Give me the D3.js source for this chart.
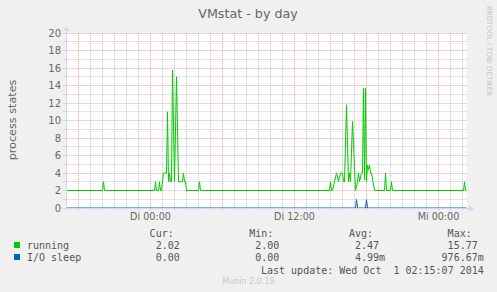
<!DOCTYPE html>
<html>
<head>
<meta charset="utf-8">
<script src="https://cdn.jsdelivr.net/npm/d3@7"></script>
<style>
  body { margin: 0; background: #f0f0f0; }
  svg { display: block; font-family: "DejaVu Sans", sans-serif; }
  .mono { font-family: "DejaVu Sans Mono", monospace; }
</style>
</head>
<body>
<div id="chart"></div>
<script>
// running processes, [time, value] (5 min steps)
const runningData = [
  ["2014-09-29 17:00", 2], ["2014-09-29 20:00", 2], ["2014-09-29 20:05", 3], ["2014-09-29 20:10", 2],
  ["2014-09-30 00:20", 2], ["2014-09-30 00:25", 3], ["2014-09-30 00:30", 2], ["2014-09-30 00:40", 2],
  ["2014-09-30 00:45", 3], ["2014-09-30 00:50", 2], ["2014-09-30 00:55", 2], ["2014-09-30 01:05", 4],
  ["2014-09-30 01:20", 4], ["2014-09-30 01:25", 11], ["2014-09-30 01:30", 3], ["2014-09-30 01:35", 4],
  ["2014-09-30 01:40", 3], ["2014-09-30 01:45", 3], ["2014-09-30 01:50", 15.77], ["2014-09-30 02:00", 3],
  ["2014-09-30 02:10", 15], ["2014-09-30 02:20", 3], ["2014-09-30 02:40", 3], ["2014-09-30 02:45", 4],
  ["2014-09-30 02:50", 3], ["2014-09-30 02:55", 3], ["2014-09-30 03:00", 2], ["2014-09-30 04:00", 2],
  ["2014-09-30 04:05", 3], ["2014-09-30 04:10", 2],
  ["2014-09-30 14:55", 2], ["2014-09-30 15:00", 3], ["2014-09-30 15:05", 2], ["2014-09-30 15:10", 2],
  ["2014-09-30 15:30", 4], ["2014-09-30 15:40", 3], ["2014-09-30 15:50", 4], ["2014-09-30 16:00", 4],
  ["2014-09-30 16:05", 3], ["2014-09-30 16:10", 3], ["2014-09-30 16:20", 11.8], ["2014-09-30 16:30", 3],
  ["2014-09-30 16:35", 4], ["2014-09-30 16:40", 3], ["2014-09-30 16:50", 9.9], ["2014-09-30 17:05", 2],
  ["2014-09-30 17:15", 3], ["2014-09-30 17:20", 4], ["2014-09-30 17:25", 3], ["2014-09-30 17:35", 4],
  ["2014-09-30 17:40", 4], ["2014-09-30 17:45", 13.7], ["2014-09-30 17:50", 3.2], ["2014-09-30 17:55", 13.7],
  ["2014-09-30 18:00", 3], ["2014-09-30 18:05", 4.9], ["2014-09-30 18:10", 4.4], ["2014-09-30 18:15", 4.9],
  ["2014-09-30 18:20", 4], ["2014-09-30 18:25", 4], ["2014-09-30 18:40", 2], ["2014-09-30 19:30", 2],
  ["2014-09-30 19:35", 4], ["2014-09-30 19:40", 2], ["2014-09-30 20:00", 2], ["2014-09-30 20:05", 3],
  ["2014-09-30 20:10", 2], ["2014-10-01 02:05", 2], ["2014-10-01 02:10", 3], ["2014-10-01 02:15", 2],
  ["2014-10-01 02:20", 2.02]
]
// processes in I/O sleep
const ioSleepData = [
  ["2014-09-29 17:00", 0], ["2014-09-30 17:05", 0], ["2014-09-30 17:10", 0.97], ["2014-09-30 17:15", 0],
  ["2014-09-30 17:55", 0], ["2014-09-30 18:00", 0.95], ["2014-09-30 18:05", 0], ["2014-10-01 02:20", 0]
]
const seriesNames = ["running", "I/O sleep"]
const seriesColors = ["#00cc00", "#0066b3"]
const curValues = [2.02, 0]
const minValues = [2.00, 0]
const avgValues = [2.47, 0.00499]
const maxValues = [15.77, 0.97667]
const statHeaders = ["Cur:", "Min:", "Avg:", "Max:"]
const dayNames = ["So", "Mo", "Di", "Mi", "Do", "Fr", "Sa"]
const timeDomain = ["2014-09-29 17:00", "2014-10-01 02:20"]
const yDomain = [0, 20]

const width = 497, height = 292
const plot = { left: 66.5, right: 466.5, top: 33, bottom: 208 }
const fontColor = "#666666"
const axisColor = "#cfd6f8"
const nbsp = s => s.replace(/ /g, "\u00a0")

const parse = d3.utcParse("%Y-%m-%d %H:%M")

const svg = d3.select("#chart").append("svg")
    .attr("width", width)
    .attr("height", height)

svg.append("rect").attr("width", width).attr("height", height).attr("fill", "#f0f0f0")

const x = d3.scaleUtc()
    .domain(timeDomain.map(parse))
    .range([plot.left, plot.right])
const y = d3.scaleLinear()
    .domain(yDomain)
    .range([plot.bottom, plot.top])

const crisp = v => Math.round(v - 0.5) + 0.5

// canvas
svg.append("rect")
    .attr("x", plot.left).attr("y", plot.top)
    .attr("width", plot.right - plot.left).attr("height", plot.bottom - plot.top)
    .attr("fill", "#ffffff")

// grid
const grid = svg.append("g").attr("stroke-dasharray", "1,1").attr("stroke-width", 1)
const hourTicks = x.ticks(d3.utcHour.every(1))
grid.selectAll("line.vx")
    .data(hourTicks)
    .enter().append("line")
    .attr("x1", d => crisp(x(d))).attr("x2", d => crisp(x(d)))
    .attr("y1", plot.top).attr("y2", plot.bottom + 3)
    .attr("stroke", d => d.getUTCHours() % 6 === 0 ? "#f2a0a0" : "#c8c8c8")
const valTicks = y.ticks(20)
grid.selectAll("line.hy")
    .data(valTicks)
    .enter().append("line")
    .attr("x1", plot.left - 3).attr("x2", plot.right)
    .attr("y1", d => crisp(y(d))).attr("y2", d => crisp(y(d)))
    .attr("stroke", d => d % 2 === 0 ? "#f2a0a0" : "#c8c8c8")

// y labels
svg.append("g").selectAll("text")
    .data(y.ticks(10))
    .enter().append("text")
    .attr("x", 61).attr("y", d => y(d) + 3.6)
    .attr("text-anchor", "end")
    .attr("font-size", 10)
    .attr("fill", fontColor)
    .text(d => d)

// x labels
svg.append("g").selectAll("text")
    .data(x.ticks(d3.utcHour.every(12)))
    .enter().append("text")
    .attr("x", d => x(d)).attr("y", 220)
    .attr("text-anchor", "middle")
    .attr("font-size", 9.6)
    .attr("fill", fontColor)
    .text(d => dayNames[d.getUTCDay()] + " " + d3.utcFormat("%H:%M")(d))

// series
const line = d3.line()
    .x(d => x(parse(d[0])))
    .y(d => y(d[1]))
const allSeries = [runningData, ioSleepData]
svg.append("g").selectAll("path")
    .data(allSeries)
    .enter().append("path")
    .attr("d", d => line(d))
    .attr("fill", "none")
    .attr("stroke", (d, i) => seriesColors[i])
    .attr("stroke-width", 1)

// axes (drawn over the zero line)
svg.append("line")
    .attr("x1", plot.left).attr("x2", plot.left)
    .attr("y1", plot.bottom + 0.5).attr("y2", 30)
    .attr("stroke", axisColor)
svg.append("path")
    .attr("d", "M63.5,31L66.5,26.5L69.5,31Z")
    .attr("fill", axisColor)
svg.append("line")
    .attr("x1", plot.left - 3).attr("x2", 470)
    .attr("y1", plot.bottom + 0.5).attr("y2", plot.bottom + 0.5)
    .attr("stroke", axisColor)
svg.append("path")
    .attr("d", "M469,205.5L474,208.5L469,211.5Z")
    .attr("fill", axisColor)

// titles
svg.append("text")
    .attr("x", 248).attr("y", 18)
    .attr("text-anchor", "middle")
    .attr("font-size", 12.7)
    .attr("fill", fontColor)
    .text("VMstat - by day")
svg.append("text")
    .attr("transform", "translate(16,120) rotate(-90)")
    .attr("text-anchor", "middle")
    .attr("font-size", 11.2)
    .attr("fill", fontColor)
    .text("process states")
svg.append("text")
    .attr("transform", "translate(487,6) rotate(90)")
    .attr("font-size", 7)
    .attr("fill", "#c4c4c4")
    .text("RRDTOOL / TOBI OETIKER")

// legend
const rrdFmt = v => (v !== 0 && Math.abs(v) < 1)
    ? (v * 1000).toFixed(2).padStart(6) + "m"
    : v.toFixed(2).padStart(6) + " "
const colX = [143.6, 243.2, 343, 441.6]
const legend = svg.append("g").attr("class", "mono").attr("font-size", 10).attr("fill", "#555")
legend.selectAll("text.hdr")
    .data(statHeaders)
    .enter().append("text")
    .attr("x", (d, i) => colX[i] + 6.02).attr("y", 237)
    .text(d => d)
const stats = [curValues, minValues, avgValues, maxValues]
seriesNames.forEach((name, s) => {
    const rowY = 249 + s * 12
    legend.append("rect")
        .attr("x", 14).attr("y", rowY - 7)
        .attr("width", 6).attr("height", 6)
        .attr("fill", seriesColors[s])
    legend.append("text").attr("x", 27).attr("y", rowY).text(name)
    stats.forEach((col, c) => {
        legend.append("text").attr("x", colX[c]).attr("y", rowY).text(nbsp(rrdFmt(col[s])))
    })
})
legend.append("text").attr("x", 261).attr("y", 274).text(nbsp("Last update: Wed Oct  1 02:15:07 2014"))

svg.append("text")
    .attr("x", 248.5).attr("y", 283.5)
    .attr("text-anchor", "middle")
    .attr("font-size", 8)
    .attr("fill", "#c8c8c8")
    .text("Munin 2.0.19")
</script>
</body>
</html>
